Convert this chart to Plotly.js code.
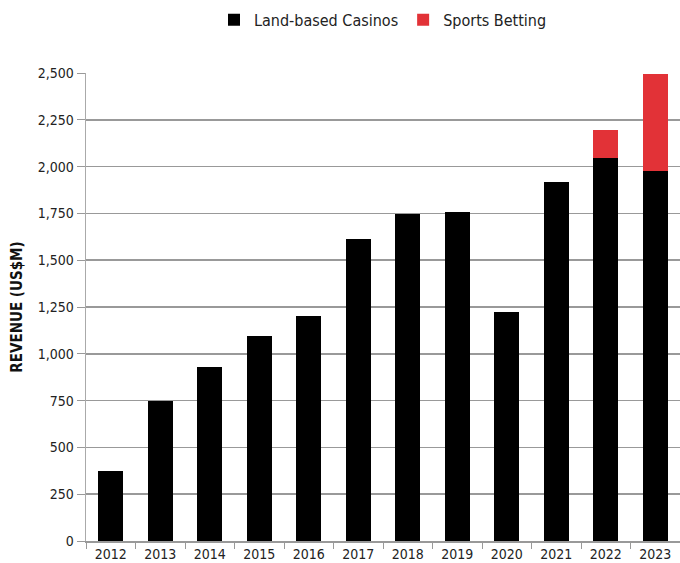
<!DOCTYPE html>
<html>
<head>
<meta charset="utf-8">
<script src="https://cdn.plot.ly/plotly-3.0.1.min.js"></script>
<style>
html,body{margin:0;padding:0;background:#fff;}
#chart{width:680px;height:563px;}
</style>
</head>
<body>
<div id="chart"></div>
<script>
const years = ["2012","2013","2014","2015","2016","2017","2018","2019","2020","2021","2022","2023"];
const landBased = [375, 750, 930, 1095, 1200, 1615, 1745, 1757, 1225, 1920, 2045, 1975];
const sportsBetting = [0, 0, 0, 0, 0, 0, 0, 0, 0, 0, 150, 520];
const yTicks = [0, 250, 500, 750, 1000, 1250, 1500, 1750, 2000, 2250, 2500];

const FONT = '"Liberation Sans Narrow", "DejaVu Sans Condensed", "Roboto Condensed", sans-serif';

const traces = [
  {type:'bar', name:'Land-based Casinos', x: years, y: landBased,
   marker:{color:'#000000'}, hoverinfo:'x+y'},
  {type:'bar', name:'Sports Betting', x: years, y: sportsBetting,
   marker:{color:'#E23237'}, hoverinfo:'x+y'}
];

const layout = {
  width:680, height:563,
  barmode:'stack', bargap:0.5,
  margin:{l:86, r:0, t:73, b:22, pad:0},
  paper_bgcolor:'#fff', plot_bgcolor:'#fff',
  font:{family:FONT, size:14, color:'#222'},
  showlegend:true,
  legend:{orientation:'h', x:0.5, xanchor:'center', y:0.995, yref:'container', yanchor:'top',
          font:{family:FONT, size:16, color:'#222'}, traceorder:'normal', itemwidth:30},
  xaxis:{type:'category', showgrid:false, showline:true, linecolor:'#999', linewidth:1.5,
         ticks:'outside', tickson:'boundaries', ticklen:6, tickcolor:'#999', tickwidth:1,
         tickfont:{family:FONT, size:14, color:'#222'}, zeroline:false, fixedrange:true},
  yaxis:{range:[0,2500], tickvals:yTicks, ticktext:yTicks.map(v=>v.toLocaleString('en-US')),
         showgrid:true, gridcolor:'#999', gridwidth:1.5, showline:true, linecolor:'#aaa', linewidth:1.5,
         ticks:'outside', ticklen:8, tickcolor:'#999', tickwidth:1,
         tickfont:{family:FONT, size:14, color:'#222'}, zeroline:false,
         title:{text:'<b>REVENUE (US$M)</b>', font:{family:FONT, size:15, color:'#111'}, standoff:11}}
};

Plotly.newPlot('chart', traces, layout, {displayModeBar:false, staticPlot:true});
</script>
</body>
</html>
